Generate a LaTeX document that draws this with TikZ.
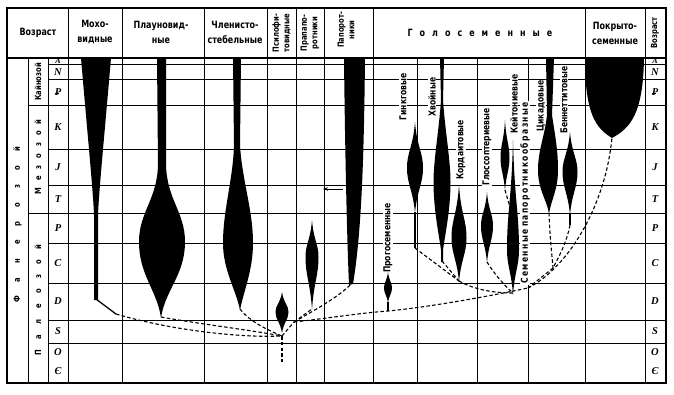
\documentclass[tikz,border=0pt]{standalone}
\usepackage{fontspec}
\setmainfont[FakeStretch=0.8]{DejaVu Sans}
\newfontfamily\perfont{Liberation Serif}
\usetikzlibrary{arrows.meta}
\makeatletter
\newcommand\spacedtxt[2]{\def\sp@sep{\hspace{#1}}\sp@first#2\relax}
\def\sp@first#1{#1\sp@rest}
\def\sp@rest#1{\ifx#1\relax\else\sp@sep#1\expandafter\sp@rest\fi}
\makeatother
\newcommand\paleog{\rlap{\kern0.02em\raisebox{0.18em}{\rule{0.42em}{0.07em}}}P}
\newcommand\spind[5]{%
 \pgfmathsetmacro\spdA{#2+0.55*(#3-#2)}%
 \pgfmathsetmacro\spdB{#3-0.35*(#3-#2)}%
 \pgfmathsetmacro\spdC{#3+0.35*(#4-#3)}%
 \pgfmathsetmacro\spdD{#4-0.5*(#4-#3)}%
 \fill (#1,#2) .. controls ({#1+0.25*#5},\spdA) and ({#1+#5},\spdB) .. ({#1+#5},#3)
   .. controls ({#1+#5},\spdC) and ({#1+0.25*#5},\spdD) .. (#1,#4)
   .. controls ({#1-0.25*#5},\spdD) and ({#1-#5},\spdC) .. ({#1-#5},#3)
   .. controls ({#1-#5},\spdB) and ({#1-0.25*#5},\spdA) .. cycle;}
\tikzset{
 gline/.style={line width=1pt},
 frameln/.style={line width=1.3pt},
 conn/.style={line width=1.1pt, dash pattern=on 3.5pt off 2.3pt},
 stemln/.style={line width=1.3pt},
 hdr/.style={font=\bfseries\fontsize{10}{15}\selectfont, align=center, inner sep=0pt},
 vhdr/.style={font=\bfseries\fontsize{8.5}{10.5}\selectfont, align=center, rotate=90, inner sep=0pt},
 lab/.style={font=\bfseries\fontsize{9.5}{10}\selectfont, rotate=90, fill=white, inner sep=0.6pt},
 era/.style={font=\bfseries\fontsize{8.5}{10}\selectfont, rotate=90, fill=white, inner sep=0.5pt},
 per/.style={font=\perfont\bfseries\itshape\fontsize{10.5}{11}\selectfont, inner sep=0pt},
}
\begin{document}
\begin{tikzpicture}[x=1pt,y=-1pt]
\useasboundingbox (0,0) rectangle (674,394);
% ---- grid ----
\foreach \y in {64,79,105,149,185,213,243,283,320,343} \draw[gline] (48,\y) -- (666,\y);
\draw[gline] (28,105) -- (48,105);
\draw[gline] (28,213) -- (48,213);
\foreach \x in {68,122,204,267,296,324,373,585,645} \draw[gline] (\x,8) -- (\x,383);
\foreach \x in {28,48,417,477,528} \draw[gline] (\x,58) -- (\x,383);
\draw[frameln] (7,58) -- (666,58);
\draw[frameln] (7,8) rectangle (666,383);
% ---- header ----
\node[hdr] (hAge) at (38,33) {Возраст};
\node[hdr] (hMoss) at (95,32.5) {Мохо-\\видные};
\node[hdr] (hLyc) at (161,32.5) {Плауновид-\\ные};
\node[hdr] (hEq) at (235,32.5) {Членисто-\\стебельные};
\node[vhdr] (hPsil) at (281.5,33) {Псилофи-\\товидные};
\node[vhdr] (hPro) at (310,33) {Прапапо-\\ротники};
\node[vhdr] (hFern) at (346,30) {Папорот-\\ники};
\node[hdr] (hGym) at (480,33) {\spacedtxt{7pt}{Голосеменные}};
\node[hdr] (hAng) at (615,33) {Покрыто-\\семенные};
\node[vhdr] (hAge2) at (655,33) {Возраст};
% ---- eras ----
\node[era] (ePhan) at (17.5,225) {\spacedtxt{14pt}{Фанерозой}};
\node[era] (eCen) at (38,82) {\fontsize{8.5}{9}\selectfont Кайнозой};
\node[era] (eMes) at (38,157) {\spacedtxt{7pt}{Мезозой}};
\node[era] (ePal) at (38,300) {\spacedtxt{10.5pt}{Палеозой}};
% ---- periods ----
\foreach \px/\nm in {58/L,655/R}{
 \node[per,font=\perfont\bfseries\itshape\fontsize{8}{8}\selectfont] (pA\nm) at (\px,61) {A};
 \node[per] (pN\nm) at (\px,72) {N};
 \node[per] (pPg\nm) at (\px,92) {\paleog};
 \node[per] (pK\nm) at (\px,127) {K};
 \node[per] (pJ\nm) at (\px,167) {J};
 \node[per] (pT\nm) at (\px,199) {T};
 \node[per] (pP\nm) at (\px,228) {P};
 \node[per] (pC\nm) at (\px,263) {C};
 \node[per] (pD\nm) at (\px,301) {D};
 \node[per] (pS\nm) at (\px,331) {S};
 \node[per] (pO\nm) at (\px,352) {O};
 \node[per] (pE\nm) at (\px,371) {Є};
}
% ---- labels ----
\node[lab] (lGink) at (403,97) {Гинкговые};
\node[lab] (lConif) at (432,97) {Хвойные};
\node[lab] (lCord) at (461,150) {Кордаитовые};
\node[lab] (lGloss) at (487,147) {Глоссоптериевые};
\node[lab] (lCayt) at (514,104) {Кейтониевые};
\node[lab] (lSeed) at (525,193) {\spacedtxt{1.4pt}{Семенные}\ \spacedtxt{1.4pt}{папоротникообразные}};
\node[lab] (lCyc) at (541,106) {Цикадовые};
\node[lab] (lBenn) at (564,100) {Беннеттитовые};
\node[lab] (lProg) at (388,238) {Прогосеменные};
% ---- shapes ----
% Моховидные
\fill (81,58) -- (111,58) .. controls (104,140) and (99,190) .. (98,215) -- (98,300) -- (94,300) -- (94,215) .. controls (93,190) and (88,140) .. cycle;
% Плауновидные
\fill (157,58) -- (166,58) -- (166,165) .. controls (167,200) and (185,212) .. (185,242) .. controls (185,275) and (165,290) .. (161,318) .. controls (157,290) and (139,275) .. (139,242) .. controls (139,212) and (157,200) .. (158,165) -- cycle;
% Членистостебельные
\fill (233,58) -- (241,58) -- (240,145) .. controls (242,180) and (253,210) .. (253,243) .. controls (253,270) and (244,290) .. (240,310) .. controls (236,290) and (223,270) .. (223,243) .. controls (223,210) and (233,180) .. (234,145) -- cycle;
% Псилофитовидные, Прапапоротники
\spind{282}{292}{312}{333}{6.5}
\spind{312}{220}{257}{310}{6.5}
% Папоротники
\fill (344,58) -- (365,58) .. controls (364,150) and (362,230) .. (353,284) -- (349,285) .. controls (347,240) and (345,150) .. cycle;
% Голосеменные
\spind{388}{272}{288}{303}{4}
\spind{415}{122}{168}{213}{8}
\fill (440,58) -- (444,58) -- (443,100) .. controls (445,130) and (450.5,160) .. (450.5,182) .. controls (450.5,210) and (445,235) .. (443,250) -- (443,262) -- (441,262) -- (441,250) .. controls (439,235) and (433.5,210) .. (433.5,182) .. controls (433.5,160) and (439,130) .. (441,100) -- cycle;
\spind{459}{185}{238}{282}{7.5}
\spind{487}{192}{226}{263}{6}
\spind{505}{120}{158}{191}{4.5}
\spind{513}{140}{250}{295}{6}
\fill (546,58) -- (554,58) -- (552,115) .. controls (555,135) and (558,150) .. (558,170) .. controls (558,190) and (551,200) .. (549,214) .. controls (547,200) and (538,190) .. (538,170) .. controls (538,150) and (545,135) .. (547,115) -- cycle;
\spind{570}{132}{172}{215}{7.5}
% Покрытосеменные
\fill (585,58) -- (644,58) .. controls (643,115) and (630,128) .. (612,138) .. controls (596,128) and (585,115) .. cycle;
% ---- connector points ----
\coordinate (J) at (282,336);
\coordinate (K) at (294,322);
\coordinate (mossB) at (96,299);
\coordinate (mossD) at (116,314);
\coordinate (lycB) at (161,317);
\coordinate (eqB) at (240,309);
\coordinate (psD) at (282,362);
\coordinate (proB) at (312,309);
\coordinate (fernB) at (351,284);
\coordinate (progB) at (388,302);
\coordinate (progJ) at (388,311);
\coordinate (mainE) at (528,288);
\coordinate (gnkS) at (415,212);
\coordinate (gnkB) at (415,248);
\coordinate (conB) at (442,261);
\coordinate (corB) at (459,281);
\coordinate (glB) at (487,262);
\coordinate (kB) at (505,190);
\coordinate (kJ) at (512,214);
\coordinate (seedB) at (513,293);
\coordinate (cycB) at (549,213);
\coordinate (benS) at (570,214);
\coordinate (benB) at (570,225);
\coordinate (cbJ) at (553,268);
\coordinate (angB) at (612,137);
\coordinate (arT) at (323,189);
\coordinate (arS) at (343,189);
% ---- connectors ----
\draw[stemln] (mossB) -- (mossD);
\draw[conn] (mossD) .. controls (170,330) and (240,338) .. (J);
\draw[conn] (lycB) .. controls (200,324) and (250,330) .. (J);
\draw[conn] (eqB) .. controls (250,322) and (268,330) .. (J);
\draw[conn] (J) -- (psD);
\draw[conn] (J) -- (K);
\draw[conn] (K) -- (proB);
\draw[conn] (K) .. controls (315,310) and (340,296) .. (fernB);
\draw[conn] (K) .. controls (330,318) and (360,313) .. (progJ) .. controls (430,307) and (490,296) .. (mainE);
\draw[stemln] (progB) -- (progJ);
\draw[line width=1.8pt] (gnkS) -- (gnkB);
\draw[conn] (gnkB) -- (corB);
\draw[conn] (conB) -- (corB);
\draw[conn] (corB) .. controls (475,290) and (495,293) .. (seedB);
\draw[conn] (glB) .. controls (495,275) and (505,286) .. (seedB);
\draw[conn] (kB) -- (kJ);
\draw[line width=1.5pt] (benS) -- (benB);
\draw[conn] (cycB) .. controls (550,240) and (552,255) .. (cbJ);
\draw[conn] (benB) .. controls (566,245) and (558,258) .. (cbJ);
\draw[conn] (cbJ) -- (mainE);
\draw[conn] (mainE) .. controls (568,268) and (606,205) .. (angB);
\draw[line width=0.8pt, {Stealth[length=5pt,width=3.5pt]}-] (arT) -- (arS);
\end{tikzpicture}
\end{document}
